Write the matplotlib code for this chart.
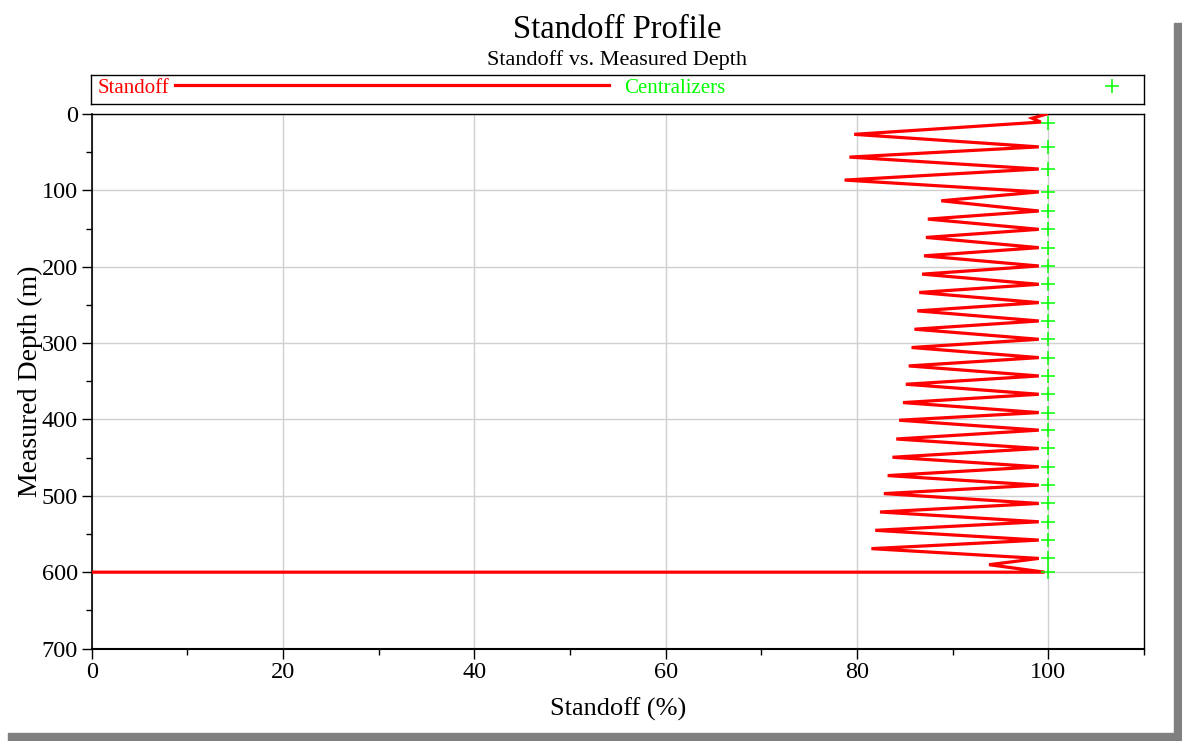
import numpy as np
import matplotlib
matplotlib.use("Agg")
from matplotlib import pyplot as plt
from matplotlib.patches import Rectangle

plt.rcParams['font.family'] = ['Liberation Serif', 'DejaVu Serif']

# standoff profile along the hole (depth in m, standoff in %)
standoff_depth = [0, 5.5, 10.5, 26.6, 43, 56.4, 72, 86.5, 102, 113.6, 127, 137.6, 151,
                  161.6, 175, 185.7, 199, 209.7, 223, 233.7, 247, 257.8, 271, 281.8,
                  295, 305.8, 319, 329.9, 343, 353.9, 367, 377.9, 391, 401, 414, 425.6,
                  438, 449.5, 462, 473.5, 486, 497.1, 510, 521.2, 534, 545.2, 558,
                  569.2, 582, 590.2, 600, 600]
standoff_pct = [99.8, 98.3, 99.2, 79.7, 99.0, 79.2, 99.0, 78.7, 99.0, 88.8, 99.0, 87.4,
                99.0, 87.2, 99.0, 87.0, 99.0, 86.8, 99.0, 86.5, 99.0, 86.3, 99.0, 86.0,
                99.0, 85.7, 99.0, 85.4, 99.0, 85.1, 99.0, 84.8, 99.0, 84.4, 99.0, 84.1,
                99.0, 83.7, 99.0, 83.2, 99.0, 82.8, 99.0, 82.4, 99.0, 81.9, 99.0, 81.5,
                99.0, 93.8, 99.6, 0]

# centralizer positions
cent_depth = [12, 43, 72, 102, 127, 151, 175, 199, 223, 247, 271, 295, 319, 343, 367,
              391, 414, 438, 462, 486, 510, 534, 558, 582, 600]
cent_pct = [100] * len(cent_depth)

x_ticks = [0, 20, 40, 60, 80, 100]
y_ticks = [0, 100, 200, 300, 400, 500, 600, 700]

RED = '#ff0000'
GREEN = '#00ff00'

fig = plt.figure(figsize=(11.82, 7.41), dpi=100)
fig.patch.set_facecolor('white')

ax = fig.add_axes([0.0776, 0.1248, 0.8903, 0.7213])
ax.plot(standoff_pct, standoff_depth, color=RED, lw=2.3, solid_joinstyle='miter', zorder=3)
ax.plot(cent_pct, cent_depth, ls='none', marker='+', ms=10, mew=1.1, color=GREEN, zorder=4)

ax.set_xlim(0, 110)
ax.set_ylim(700, 0)
ax.set_xticks(x_ticks)
ax.set_xticks([10, 30, 50, 70, 90, 110], minor=True)
ax.set_yticks(y_ticks)
ax.set_yticks([50, 150, 250, 350, 450, 550, 650], minor=True)
ax.tick_params(which='major', direction='out', length=7, width=1, labelsize=17.5, pad=3)
ax.tick_params(which='minor', direction='out', length=4.5, width=1)
ax.tick_params(axis='x', which='both', top=False)
ax.tick_params(axis='y', which='both', right=False)
ax.grid(True, which='major', color='#d0d0d0', lw=1, zorder=0)

ax.spines['left'].set_linewidth(1.2)
ax.spines['bottom'].set_linewidth(1.5)
ax.spines['top'].set_linewidth(1)
ax.spines['right'].set_linewidth(1)

ax.set_xlabel('Standoff (%)', fontsize=19)
ax.xaxis.set_label_coords(0.5, -0.114)
ax.xaxis.label.set_va('center')
ax.set_ylabel('Measured Depth (m)', fontsize=20)
ax.yaxis.set_label_coords(-0.0587, 0.5)
ax.yaxis.label.set_va('center')

fig.text(0.5224, 0.9487, 'Standoff Profile', fontsize=23.5, ha='center', va='baseline')
fig.text(0.5224, 0.9123, 'Standoff vs. Measured Depth', fontsize=16, ha='center', va='baseline')

# legend strip above the plot
lax = fig.add_axes([0.077, 0.8596, 0.8909, 0.0391])
lax.set_xlim(0, 1)
lax.set_ylim(0, 1)
lax.set_xticks([])
lax.set_yticks([])
for s in lax.spines.values():
    s.set_linewidth(1)
lax.text(0.006, 0.55, 'Standoff', color=RED, fontsize=15, va='center', ha='left')
lax.plot([0.08, 0.492], [0.65, 0.65], color=RED, lw=2.3)
lax.text(0.506, 0.55, 'Centralizers', color=GREEN, fontsize=15, va='center', ha='left')
lax.plot([0.9696], [0.62], ls='none', marker='+', ms=10, mew=1.1, color=GREEN)

# drop shadow along the right and bottom edges
fig.patches.append(Rectangle((0.9932, 0), 0.0068, 0.969, transform=fig.transFigure,
                             color='#808080', zorder=0))
fig.patches.append(Rectangle((0.0068, 0), 0.9932, 0.0108, transform=fig.transFigure,
                             color='#808080', zorder=0))

fig.savefig('out.png', dpi=100, facecolor='white')
